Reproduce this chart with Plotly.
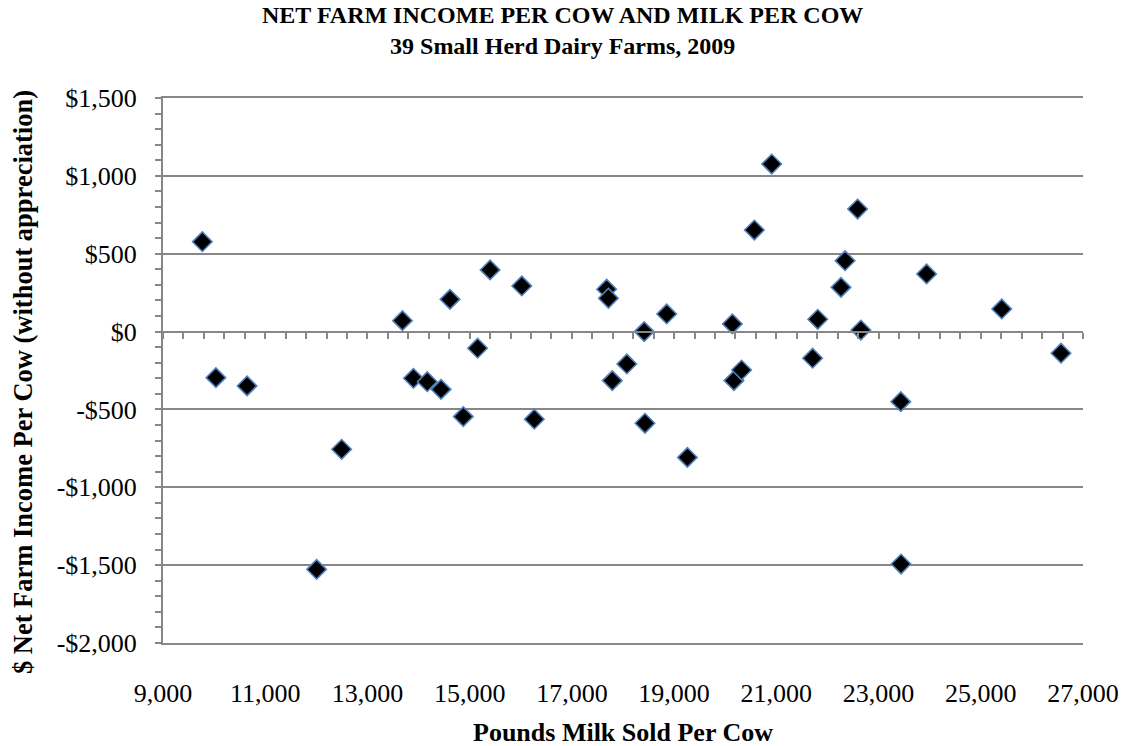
import plotly.graph_objects as go

# Pounds of milk sold per cow and net farm income per cow (without appreciation)
milk_per_cow = [9770, 10035, 10645, 12005, 12495, 13685, 13900, 14170, 14440, 14615,
                14875, 15155, 15400, 16020, 16265, 17680, 17715, 17790, 18075, 18415,
                18430, 18855, 19260, 20140, 20170, 20320, 20570, 20910, 21710, 21810,
                22265, 22345, 22590, 22655, 23435, 23440, 23940, 25410, 26570]
income_per_cow = [577, -296, -349, -1527, -756, 70, -300, -322, -371, 207,
                  -546, -107, 396, 293, -563, 272, 214, -315, -208, 0,
                  -589, 113, -808, 49, -315, -247, 652, 1076, -171, 79,
                  284, 455, 787, 10, -450, -1493, 370, 145, -139]

x_ticks = [9000, 11000, 13000, 15000, 17000, 19000, 21000, 23000, 25000, 27000]
y_ticks = [-2000, -1500, -1000, -500, 0, 500, 1000, 1500]
y_tick_text = ["-$2,000", "-$1,500", "-$1,000", "-$500", "$0", "$500", "$1,000", "$1,500"]

X_RANGE = [9000, 27000]
Y_RANGE = [-2000, 1500]
GRAY = "#878787"
FONT = "Liberation Serif"

fig = go.Figure()
fig.add_trace(go.Scatter(
    x=milk_per_cow, y=income_per_cow, mode="markers",
    marker=dict(symbol="diamond", size=15, color="black",
                line=dict(color="#4F81BD", width=1.6)),
    showlegend=False, cliponaxis=False,
))
# empty trace so the overlay axes (tick marks) are drawn
fig.add_trace(go.Scatter(x=[], y=[], xaxis="x2", yaxis="y2", showlegend=False))

zero_pos = (0 - Y_RANGE[0]) / (Y_RANGE[1] - Y_RANGE[0])

fig.update_layout(
    width=1124, height=746,
    margin=dict(l=163, r=41, t=98, b=103, autoexpand=False),
    paper_bgcolor="white", plot_bgcolor="white",
    font=dict(family=FONT, color="black"),
    xaxis=dict(
        range=X_RANGE, tickvals=x_ticks, tickformat=",d", automargin=False,
        showgrid=False, zeroline=False,
        showline=True, linecolor=GRAY, linewidth=2, mirror=True,
        ticks="outside", ticklen=26, tickcolor="rgba(0,0,0,0)",
        tickfont=dict(family=FONT, size=26, color="black"),
    ),
    yaxis=dict(
        range=Y_RANGE, tickvals=y_ticks, ticktext=y_tick_text, automargin=False,
        showgrid=True, gridcolor=GRAY, gridwidth=2,
        zeroline=False, showline=False,
        ticks="outside", ticklen=20, tickcolor="rgba(0,0,0,0)",
        tickfont=dict(family=FONT, size=26, color="black"),
    ),
    # horizontal axis line crossing at $0 with its tick marks
    xaxis2=dict(
        overlaying="x", anchor="free", position=zero_pos, range=X_RANGE,
        automargin=False,
        showline=True, linecolor=GRAY, linewidth=2,
        ticks="outside", ticklen=6, tickwidth=2, tickcolor=GRAY,
        tick0=9000, dtick=400, showticklabels=False,
        showgrid=False, zeroline=False,
    ),
    # vertical axis line with tick marks every $100
    yaxis2=dict(
        overlaying="y", anchor="x2", side="left", range=Y_RANGE,
        automargin=False,
        showline=True, linecolor=GRAY, linewidth=2,
        ticks="outside", ticklen=6, tickwidth=2, tickcolor=GRAY,
        tick0=-2000, dtick=100, showticklabels=False,
        showgrid=False, zeroline=False,
    ),
    annotations=[
        dict(text="<b>NET FARM INCOME PER COW AND MILK PER COW<br>39 Small Herd Dairy Farms, 2009</b>",
             xref="paper", yref="paper", x=0.4337, y=1.123,
             xanchor="center", yanchor="middle", showarrow=False,
             font=dict(family=FONT, size=24, color="black")),
        dict(text="<b>Pounds Milk Sold Per Cow</b>", xref="paper", yref="paper",
             x=0.5, y=-0.165, xanchor="center", yanchor="middle", showarrow=False,
             font=dict(family=FONT, size=26, color="black")),
        dict(text="<b>$ Net Farm Income Per Cow (without appreciation)</b>",
             xref="paper", yref="paper", x=-0.152, y=0.479, textangle=-90,
             xanchor="center", yanchor="middle", showarrow=False,
             font=dict(family=FONT, size=26.5, color="black")),
    ],
)

fig.write_html("out.html")
